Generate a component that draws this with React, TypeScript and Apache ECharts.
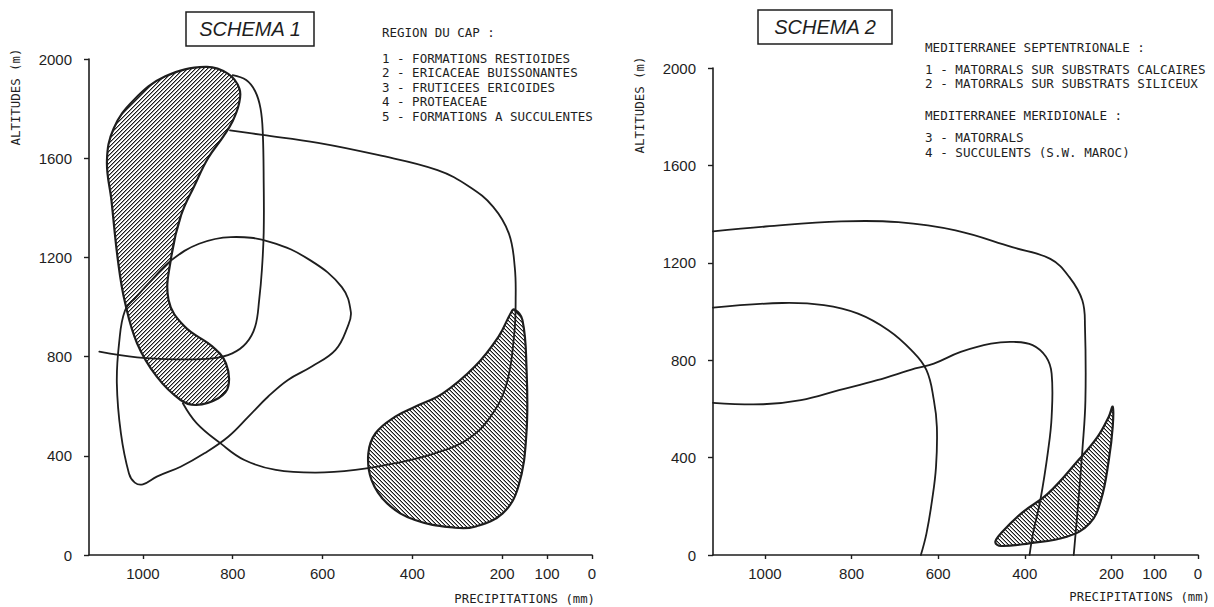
import React, { useEffect, useRef } from "react";
import * as echarts from "echarts";

// ---------- data (precipitation mm, altitude m) ----------
const xTickValues = [1000, 800, 600, 400, 200, 100, 0];

// Schema 1 (Region du Cap)
const s1Shape2 = [
  [860, 1968], [810, 1940], [785, 1880], [786, 1820], [800, 1750], [820, 1690],
  [855, 1600], [885, 1490], [915, 1370], [937, 1200], [943, 1029], [907, 921],
  [845, 840], [815, 773], [810, 679], [832, 632], [881, 605], [916, 625],
  [969, 719], [1013, 854], [1040, 1020], [1055, 1180], [1070, 1430], [1080, 1590],
  [1065, 1720], [1020, 1835], [950, 1930],
];
const s1Curve1 = [
  [800, 1935], [770, 1915], [750, 1870], [738, 1800], [733, 1700], [731, 1500],
  [731, 1300], [735, 1150], [741, 1030], [750, 921], [770, 854], [801, 813],
  [845, 793], [925, 789], [1013, 797], [1097, 820],
];
const s1Curve3 = [
  [806, 1712], [734, 1694], [610, 1662], [477, 1613], [344, 1552], [273, 1485],
  [220, 1404], [185, 1296], [172, 1161], [170, 1030], [173, 894], [190, 692],
  [226, 558], [279, 464], [350, 410], [438, 370], [527, 343], [615, 332],
  [704, 343], [774, 383], [827, 450], [880, 531], [911, 612],
];
const s1Shape4 = [
  [937, 1188], [875, 1255], [804, 1282], [716, 1262], [627, 1188], [557, 1080],
  [537, 980], [544, 921], [571, 827], [624, 760], [677, 706], [721, 639],
  [765, 558], [810, 477], [863, 410], [916, 356], [969, 316], [1000, 285],
  [1018, 292], [1031, 329], [1049, 491], [1058, 692], [1053, 854], [1040, 985],
  [1015, 1040], [981, 1107],
];
const s1Shape5 = [
  [173, 990], [155, 948], [146, 760], [146, 491], [164, 276], [199, 168],
  [261, 114], [305, 110], [394, 141], [456, 208], [491, 303], [498, 410],
  [482, 491], [438, 558], [394, 598], [332, 652], [261, 760], [208, 881],
  [181, 975],
];
const s1Labels = [
  { name: "1", value: [814, 1471] },
  { name: "2", value: [967, 1580] },
  { name: "3", value: [412, 1126] },
  { name: "4", value: [676, 928] },
  { name: "5", value: [278, 330] },
];
const s1LegendTitle = "REGION DU CAP :";
const s1LegendItems = [
  "1 - FORMATIONS RESTIOIDES",
  "2 - ERICACEAE BUISSONANTES",
  "3 - FRUTICEES ERICOIDES",
  "4 - PROTEACEAE",
  "5 - FORMATIONS A SUCCULENTES",
];

// Schema 2 (Mediterranee)
const s2Curve3 = [
  [1120, 1329], [999, 1349], [824, 1370], [692, 1367], [560, 1333], [429, 1264],
  [341, 1216], [297, 1141], [267, 1045], [261, 937], [260, 636], [267, 431],
  [276, 226], [287, 0],
];
const s2Curve2 = [
  [1120, 1016], [960, 1035], [864, 1026], [785, 991], [715, 923], [662, 841],
  [627, 759], [610, 636], [603, 526], [605, 362], [614, 226], [627, 89], [640, 0],
];
const s2Curve1 = [
  [1120, 625], [1004, 619], [917, 636], [829, 677], [741, 718], [653, 766],
  [610, 786], [548, 834], [478, 868], [425, 875], [382, 862], [351, 814],
  [338, 745], [338, 568], [346, 431], [364, 226], [381, 89], [389, 0],
];
const s2Shape4 = [
  [197, 609], [197, 526], [206, 390], [224, 226], [250, 130], [303, 75],
  [390, 48], [455, 37], [468, 52], [455, 89], [408, 171], [346, 253],
  [276, 390], [232, 485], [206, 568],
];
const s2Labels = [
  { name: "3", value: [489, 1090] },
  { name: "2", value: [858, 342] },
  { name: "1", value: [473, 429] },
  { name: "4", value: [232, 334] },
];
const s2LegendTitle1 = "MEDITERRANEE SEPTENTRIONALE :";
const s2LegendItems1 = [
  "1 - MATORRALS SUR SUBSTRATS CALCAIRES",
  "2 - MATORRALS SUR SUBSTRATS SILICEUX",
];
const s2LegendTitle2 = "MEDITERRANEE MERIDIONALE :";
const s2LegendItems2 = ["3 - MATORRALS", "4 - SUCCULENTS (S.W. MAROC)"];

// ---------- helpers ----------
const INK = "#1e1e1e";
const SANS = '"Liberation Sans", Arial, sans-serif';
const MONO = '"DejaVu Sans Mono", monospace';

function makeHatch(dir: number) {
  const s = 4;
  const c = document.createElement("canvas");
  c.width = s;
  c.height = s;
  const ctx = c.getContext("2d")!;
  ctx.fillStyle = "#ffffff";
  ctx.fillRect(0, 0, s, s);
  for (let i = 0; i < s; i++) {
    const y = dir > 0 ? s - 1 - i : i;
    ctx.fillStyle = "#1a1a1a";
    ctx.fillRect(i, y, 1, 1);
    ctx.fillStyle = "#9a9a9a";
    ctx.fillRect(i, (y + 1) % s, 1, 1);
  }
  return c;
}

function shapeSeries(
  pts: number[][],
  idx: number,
  closed: boolean,
  fill: any,
  lineWidth: number,
  z: number
) {
  return {
    type: "custom",
    coordinateSystem: "cartesian2d",
    xAxisIndex: idx,
    yAxisIndex: idx,
    data: pts,
    encode: { x: 0, y: 1 },
    clip: false,
    silent: true,
    z,
    renderItem: (params: any, api: any) => {
      if (params.dataIndex !== 0) return null;
      const points = pts.map((p) => api.coord(p));
      return {
        type: closed ? "polygon" : "polyline",
        shape: { points, smooth: 0.4 },
        style: {
          fill: closed && fill ? fill : "none",
          stroke: INK,
          lineWidth,
          lineJoin: "round",
          lineCap: "round",
        },
      };
    },
  };
}

function labelSeries(data: any[], idx: number) {
  return {
    type: "scatter",
    xAxisIndex: idx,
    yAxisIndex: idx,
    symbolSize: 1,
    itemStyle: { opacity: 0 },
    silent: true,
    z: 10,
    data,
    label: {
      show: true,
      position: "inside",
      formatter: "{b}",
      color: INK,
      fontFamily: SANS,
      fontSize: 16,
    },
  };
}

function text(x: number, y: number, t: string, font: string, align = "left", rotation = 0) {
  return {
    type: "text",
    x,
    y,
    rotation,
    silent: true,
    style: {
      text: t,
      font,
      fill: INK,
      align,
      textAlign: align,
      verticalAlign: "middle",
      textVerticalAlign: "middle",
    },
  };
}

const plain = (v: number) => String(v);

export default function App() {
  const ref = useRef<HTMLDivElement>(null);

  useEffect(() => {
    if (!ref.current) return;
    const chart = echarts.init(ref.current, undefined, { renderer: "svg" });
    const hatchUp = { image: makeHatch(1), repeat: "repeat" };
    const hatchDown = { image: makeHatch(-1), repeat: "repeat" };

    const xAxisBase = (gridIndex: number) => ({
      type: "value",
      gridIndex,
      min: 0,
      max: 1120,
      inverse: true,
      splitLine: { show: false },
      axisLine: { show: true, onZero: false, lineStyle: { color: INK, width: 1.6 } },
      axisTick: {
        show: true,
        customValues: xTickValues,
        length: 4,
        lineStyle: { color: INK, width: 1.4 },
      },
      axisLabel: {
        customValues: xTickValues,
        formatter: plain,
        margin: 11,
        color: INK,
        fontFamily: SANS,
        fontSize: 15,
      },
    });
    const yAxisBase = (gridIndex: number) => ({
      type: "value",
      gridIndex,
      position: "left",
      min: 0,
      max: 2000,
      interval: 400,
      splitLine: { show: false },
      axisLine: { show: true, onZero: false, lineStyle: { color: INK, width: 1.6 } },
      axisTick: { show: true, length: 5, lineStyle: { color: INK, width: 1.4 } },
      axisLabel: {
        formatter: plain,
        margin: 17,
        color: INK,
        fontFamily: SANS,
        fontSize: 15,
      },
    });

    const legendFont1 = `12.5px ${MONO}`;
    const legendFont2 = `12.6px ${MONO}`;
    const graphics: any[] = [
      {
        type: "rect",
        silent: true,
        shape: { x: 186, y: 12, width: 128, height: 34 },
        style: { fill: "none", stroke: INK, lineWidth: 1.5 },
      },
      text(250, 29, "SCHEMA 1", `italic 20px ${SANS}`, "center"),
      {
        type: "rect",
        silent: true,
        shape: { x: 758, y: 10, width: 134, height: 34 },
        style: { fill: "none", stroke: INK, lineWidth: 1.5 },
      },
      text(825, 27, "SCHEMA 2", `italic 20px ${SANS}`, "center"),
      text(382, 32, s1LegendTitle, legendFont1),
      ...s1LegendItems.map((t, i) => text(382, 58 + i * 14.5, t, legendFont1)),
      text(925, 47, s2LegendTitle1, legendFont2),
      ...s2LegendItems1.map((t, i) => text(925, 69 + i * 14.5, t, legendFont2)),
      text(925, 115, s2LegendTitle2, legendFont2),
      ...s2LegendItems2.map((t, i) => text(925, 137 + i * 15, t, legendFont2)),
      text(15, 97, "ALTITUDES (m)", `12.4px ${MONO}`, "center", Math.PI / 2),
      text(639, 105, "ALTITUDES (m)", `12.4px ${MONO}`, "center", Math.PI / 2),
      text(595, 599, "PRECIPITATIONS (mm)", `12.3px ${MONO}`, "right"),
      text(1210, 597, "PRECIPITATIONS (mm)", `12.3px ${MONO}`, "right"),
    ];

    chart.setOption({
      animation: false,
      backgroundColor: "#ffffff",
      grid: [
        { left: 89, right: 622, top: 59, bottom: 52 },
        { left: 713, right: 16, top: 68, bottom: 52 },
      ],
      xAxis: [xAxisBase(0), xAxisBase(1)],
      yAxis: [yAxisBase(0), yAxisBase(1)],
      graphic: graphics,
      series: [
        shapeSeries(s1Shape2, 0, true, hatchUp, 2.2, 1),
        shapeSeries(s1Shape5, 0, true, hatchDown, 2.2, 1),
        shapeSeries(s1Curve1, 0, false, null, 1.8, 2),
        shapeSeries(s1Curve3, 0, false, null, 1.8, 2),
        shapeSeries(s1Shape4, 0, true, null, 1.8, 2),
        labelSeries(s1Labels, 0),
        shapeSeries(s2Shape4, 1, true, hatchDown, 2.2, 1),
        shapeSeries(s2Curve3, 1, false, null, 1.8, 2),
        shapeSeries(s2Curve2, 1, false, null, 1.8, 2),
        shapeSeries(s2Curve1, 1, false, null, 1.8, 2),
        labelSeries(s2Labels, 1),
      ],
    });
    return () => chart.dispose();
  }, []);

  return (
    <div
      ref={ref}
      style={{ position: "fixed", left: 0, top: 0, width: "1214px", height: "607px", background: "#fff" }}
    />
  );
}
